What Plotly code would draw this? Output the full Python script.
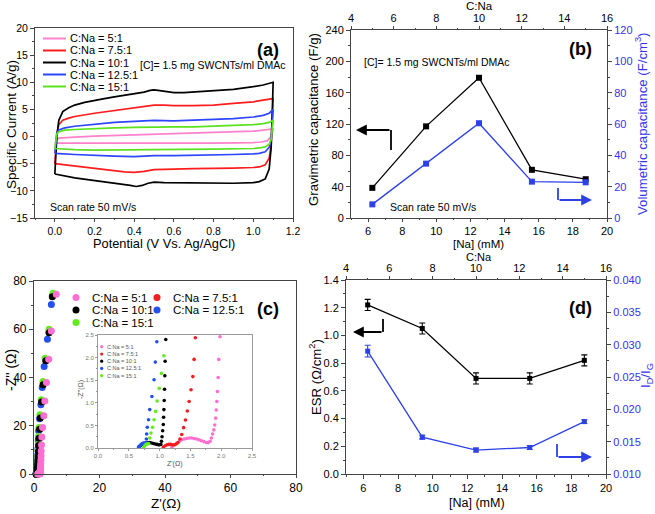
import plotly.graph_objects as go

W, H = 655, 514
FONT = "Arial, 'Liberation Sans', sans-serif"
AXC = "#444444"
BLUE_TXT = "#3333ee"


def px(x):
    return x / W


def py(y):
    return 1 - y / H


# ---------------- (a) cyclic voltammetry ----------------
cv_labels = ["C:Na = 5:1", "C:Na = 7.5:1", "C:Na = 10:1", "C:Na = 12.5:1", "C:Na = 15:1"]
cv_colors = ["#ff80cc", "#ff1c1c", "#000000", "#2c46ff", "#5ae21e"]

v_up_5 = [0.00, 0.01, 0.02, 0.05, 0.10, 0.20, 0.30, 0.40, 0.50, 0.60, 0.70, 0.80, 0.90, 1.00, 1.05, 1.10]
i_up_5 = [-1.2, -0.6, -0.3, -0.2, -0.1, 0.1, 0.2, 0.3, 0.5, 0.5, 0.6, 0.7, 0.9, 1.0, 1.2, 1.4]
v_dn_5 = [1.10, 1.09, 1.07, 1.04, 1.00, 0.80, 0.60, 0.40, 0.20, 0.10, 0.00]
i_dn_5 = [1.4, 0.0, -0.8, -1.0, -1.1, -1.2, -1.2, -1.3, -1.3, -1.3, -1.2]

v_up_75 = [0.00, 0.005, 0.01, 0.02, 0.04, 0.07, 0.10, 0.20, 0.30, 0.40, 0.45, 0.50, 0.55, 0.60, 0.70, 0.80, 0.90, 1.00, 1.05, 1.10]
i_up_75 = [-5.0, -2.0, 0.5, 2.2, 3.0, 3.4, 3.7, 4.3, 4.8, 5.3, 5.6, 5.8, 5.8, 5.7, 5.7, 5.8, 6.1, 6.4, 6.7, 7.0]
v_dn_75 = [1.10, 1.095, 1.09, 1.08, 1.06, 1.03, 1.00, 0.90, 0.80, 0.70, 0.60, 0.50, 0.45, 0.40, 0.35, 0.30, 0.20, 0.10, 0.00]
i_dn_75 = [7.0, 3.0, -1.5, -4.0, -5.2, -5.6, -5.7, -5.8, -5.8, -5.9, -6.0, -6.1, -6.4, -6.6, -6.5, -6.3, -5.9, -5.5, -5.0]

v_up_10 = [0.00, 0.005, 0.01, 0.02, 0.04, 0.07, 0.10, 0.15, 0.20, 0.25, 0.30, 0.35, 0.40, 0.45, 0.48, 0.50, 0.52, 0.55, 0.60, 0.65, 0.70, 0.80, 0.90, 1.00, 1.05, 1.10]
i_up_10 = [-6.9, -4.0, 0.0, 3.0, 4.6, 5.3, 5.8, 6.3, 6.7, 7.0, 7.3, 7.6, 7.8, 8.2, 8.5, 8.6, 8.5, 8.3, 8.1, 8.1, 8.2, 8.4, 8.7, 9.2, 9.5, 10.0]
v_dn_10 = [1.10, 1.095, 1.09, 1.08, 1.06, 1.03, 1.00, 0.90, 0.80, 0.70, 0.60, 0.55, 0.50, 0.47, 0.44, 0.41, 0.38, 0.30, 0.20, 0.10, 0.00]
i_dn_10 = [10.0, 4.0, -2.0, -6.0, -7.8, -8.3, -8.5, -8.6, -8.6, -8.6, -8.6, -8.5, -8.4, -8.6, -9.0, -9.2, -9.0, -8.6, -8.1, -7.6, -6.9]

v_up_125 = [0.00, 0.005, 0.01, 0.02, 0.05, 0.10, 0.20, 0.30, 0.40, 0.50, 0.60, 0.70, 0.80, 0.90, 1.00, 1.05, 1.08, 1.10]
i_up_125 = [-3.1, -1.0, 0.6, 1.2, 1.6, 1.9, 2.3, 2.6, 2.8, 3.0, 2.9, 3.0, 3.1, 3.3, 3.6, 3.9, 4.3, 5.0]
v_dn_125 = [1.10, 1.095, 1.09, 1.08, 1.06, 1.03, 1.00, 0.90, 0.80, 0.70, 0.60, 0.50, 0.40, 0.30, 0.20, 0.10, 0.00]
i_dn_125 = [5.0, 2.0, -0.5, -2.0, -2.8, -3.1, -3.2, -3.3, -3.4, -3.4, -3.5, -3.5, -3.7, -3.6, -3.5, -3.3, -3.1]

v_up_15 = [0.00, 0.005, 0.01, 0.02, 0.05, 0.10, 0.20, 0.30, 0.40, 0.50, 0.60, 0.70, 0.80, 0.90, 1.00, 1.05, 1.08, 1.10]
i_up_15 = [-2.2, -0.5, 0.5, 0.9, 1.2, 1.3, 1.5, 1.6, 1.7, 1.8, 1.8, 1.8, 1.9, 2.0, 2.2, 2.4, 2.6, 3.0]
v_dn_15 = [1.10, 1.095, 1.09, 1.08, 1.06, 1.03, 1.00, 0.80, 0.60, 0.40, 0.20, 0.10, 0.00]
i_dn_15 = [3.0, 1.0, -0.5, -1.4, -1.9, -2.1, -2.2, -2.3, -2.4, -2.5, -2.5, -2.4, -2.2]

cv_v = [v_up_5 + v_dn_5, v_up_75 + v_dn_75, v_up_10 + v_dn_10, v_up_125 + v_dn_125, v_up_15 + v_dn_15]
cv_i = [i_up_5 + i_dn_5, i_up_75 + i_dn_75, i_up_10 + i_dn_10, i_up_125 + i_dn_125, i_up_15 + i_dn_15]

# ---------------- (b) capacitance ----------------
na_mM = [6.25, 9.4, 12.5, 15.6, 18.75]
c_na_ratio = [5, 7.5, 10, 12.5, 15]
grav_cap = [38.5, 117, 179, 61.5, 49.5]
vol_cap = [8.7, 34.7, 60.5, 23.2, 22.8]

# ---------------- (c) Nyquist ----------------
eis_labels = ["C:Na = 5:1", "C:Na = 7.5:1", "C:Na = 10:1", "C:Na = 12.5:1", "C:Na = 15:1"]
eis_colors = ["#ff6fd0", "#f21d1d", "#000000", "#2250f2", "#62ec1e"]

zre_5 = [1.20, 1.24, 1.28, 1.32, 1.36, 1.40, 1.44, 1.48, 1.52, 1.56, 1.60, 1.64, 1.68, 1.72, 1.76, 1.79, 1.82,
         1.84, 1.86, 1.88, 1.895, 1.91, 1.92, 1.93, 1.94, 1.95, 1.96, 1.98,
         2.0, 2.05, 2.1, 2.15, 2.2, 2.3, 2.4, 2.6, 3.0, 3.3, 3.8, 4.5, 5.3, 6.8]
zim_5 = [0.02, 0.07, 0.11, 0.15, 0.18, 0.20, 0.21, 0.22, 0.22, 0.21, 0.20, 0.18, 0.16, 0.14, 0.12, 0.12, 0.15,
         0.22, 0.31, 0.40, 0.51, 0.66, 0.84, 1.03, 1.25, 1.56, 1.96, 2.46,
         3.2, 4.4, 5.8, 7.5, 9.5, 12.0, 15.3, 19.3, 24.1, 30.3, 37.9, 47.6, 59.3, 74.5]

zre_75 = [1.06, 1.09, 1.12, 1.15, 1.18, 1.21, 1.24, 1.27,
          1.30, 1.33, 1.36, 1.39, 1.42, 1.45, 1.48, 1.51, 1.54, 1.56, 1.58,
          1.6, 1.62, 1.65, 1.68, 1.72, 1.78, 1.85, 1.95, 2.2, 2.5, 3.0, 3.7, 4.6, 5.6]
zim_75 = [0.02, 0.05, 0.07, 0.08, 0.08, 0.07, 0.07, 0.09,
          0.12, 0.20, 0.30, 0.45, 0.62, 0.82, 1.03, 1.29, 1.58, 1.96, 2.44,
          3.3, 4.4, 5.8, 7.5, 9.5, 12.0, 15.0, 18.8, 23.8, 30.0, 37.5, 47.0, 58.8, 73.8]

zre_10 = [0.66, 0.69, 0.72, 0.75, 0.78, 0.81, 0.84, 0.87, 0.90, 0.93, 0.96, 0.99, 1.02,
          1.03, 1.04, 1.05, 1.06, 1.065, 1.07, 1.075, 1.08, 1.085, 1.09, 1.10,
          1.12, 1.15, 1.2, 1.25, 1.3, 1.4, 1.5, 1.7, 1.9, 2.3, 2.75, 3.6, 4.6, 5.6]
zim_10 = [0.02, 0.05, 0.08, 0.10, 0.11, 0.12, 0.12, 0.11, 0.10, 0.09, 0.08, 0.07, 0.08,
          0.15, 0.25, 0.38, 0.52, 0.68, 0.85, 1.05, 1.3, 1.6, 1.92, 2.4,
          3.2, 4.3, 5.6, 7.3, 9.3, 11.8, 14.8, 18.5, 23.2, 29.8, 37.0, 46.9, 58.6, 73.5]

zre_125 = [0.66, 0.68, 0.70, 0.72, 0.74, 0.76, 0.78,
           0.785, 0.79, 0.80, 0.82, 0.84, 0.875, 0.91, 0.93, 0.955,
           1.0, 1.05, 1.1, 1.15, 1.2, 1.3, 1.4, 1.7, 2.1, 2.5, 3.1, 4.1, 5.3]
zim_125 = [0.02, 0.05, 0.08, 0.10, 0.11, 0.11, 0.12,
           0.20, 0.31, 0.46, 0.625, 0.85, 1.14, 1.51, 1.9, 2.35,
           3.2, 4.5, 6.0, 8.0, 10.5, 13.8, 17.9, 22.9, 28.7, 35.9, 44.6, 55.9, 70.3]

zre_15 = [0.74, 0.76, 0.78, 0.80, 0.82,
          0.84, 0.86, 0.886, 0.91, 0.935, 0.96, 0.995, 1.03, 1.07,
          1.1, 1.12, 1.15, 1.18, 1.2, 1.25, 1.3, 1.4, 1.5, 1.8, 2.2, 2.75, 3.4, 4.6, 5.8]
zim_15 = [0.02, 0.05, 0.08, 0.09, 0.10,
          0.22, 0.33, 0.46, 0.625, 0.81, 1.04, 1.32, 1.65, 2.04,
          2.6, 3.3, 4.5, 6.0, 7.7, 9.8, 12.4, 15.6, 19.3, 24.6, 30.8, 38.3, 48.0, 60.0, 74.9]

eis_re = [zre_5, zre_75, zre_10, zre_125, zre_15]
eis_im = [zim_5, zim_75, zim_10, zim_125, zim_15]

# ---------------- (d) ESR and ID/IG ----------------
esr = [1.22, 1.05, 0.69, 0.69, 0.82]
esr_err = [0.04, 0.04, 0.04, 0.04, 0.04]
id_ig = [0.0290, 0.0157, 0.0137, 0.0141, 0.0181]
id_ig_err = [0.0009, 0.0003, 0.0003, 0.0003, 0.0003]

LINE_BLUE = "#2d41e6"

fig = go.Figure()

# (a)
for k in range(5):
    fig.add_trace(go.Scatter(x=cv_v[k], y=cv_i[k], mode="lines", name=cv_labels[k],
                             line=dict(color=cv_colors[k], width=1.7), xaxis="x", yaxis="y",
                             showlegend=False))

# (b)
fig.add_trace(go.Scatter(x=na_mM, y=grav_cap, mode="lines+markers", line=dict(color="black", width=1.3),
                         marker=dict(symbol="square", size=6, color="black"), xaxis="x2", yaxis="y2",
                         showlegend=False))
fig.add_trace(go.Scatter(x=na_mM, y=vol_cap, mode="lines+markers", line=dict(color=LINE_BLUE, width=1.3),
                         marker=dict(symbol="square", size=6, color=LINE_BLUE), xaxis="x2", yaxis="y3",
                         showlegend=False))
# same series against the C:Na ratio (top axis), invisible: it only carries the top axis
fig.add_trace(go.Scatter(x=c_na_ratio, y=grav_cap, mode="markers", marker=dict(opacity=0),
                         xaxis="x3", yaxis="y2", hoverinfo="skip", showlegend=False))

# (c) main and inset
order = [1, 3, 4, 2, 0]
for k in order:
    fig.add_trace(go.Scatter(x=eis_re[k], y=eis_im[k], mode="markers", name=eis_labels[k],
                             marker=dict(size=7, color=eis_colors[k]), xaxis="x4", yaxis="y4",
                             cliponaxis=False, showlegend=False))
for k in [0, 1, 2, 3, 4]:
    fig.add_trace(go.Scatter(x=eis_re[k], y=eis_im[k], mode="markers", name=eis_labels[k],
                             marker=dict(size=3.6, color=eis_colors[k]), xaxis="x5", yaxis="y5",
                             cliponaxis=True, showlegend=False))

# (d)
fig.add_trace(go.Scatter(x=na_mM, y=esr, mode="lines+markers", line=dict(color="black", width=1.3),
                         marker=dict(symbol="square", size=5, color="black"),
                         error_y=dict(type="data", array=esr_err, color="black", thickness=1.1, width=3),
                         xaxis="x6", yaxis="y6", showlegend=False))
fig.add_trace(go.Scatter(x=na_mM, y=id_ig, mode="lines+markers", line=dict(color=LINE_BLUE, width=1.3),
                         marker=dict(symbol="square", size=5, color=LINE_BLUE),
                         error_y=dict(type="data", array=id_ig_err, color=LINE_BLUE, thickness=1.1, width=3),
                         xaxis="x6", yaxis="y7", showlegend=False))
fig.add_trace(go.Scatter(x=c_na_ratio, y=esr, mode="markers", marker=dict(opacity=0),
                         xaxis="x7", yaxis="y6", hoverinfo="skip", showlegend=False))


def axis(domain, rng, dtick, minor, anchor, side=None, overlaying=None, mirror=False,
         fsize=11, fcolor="black", fmt=None, lcolor=AXC, ticklen=4, tickcolor=AXC):
    d = dict(domain=domain, range=rng, dtick=dtick, tick0=0, anchor=anchor, showgrid=False,
             zeroline=False, showline=True, linecolor=lcolor, linewidth=1.1, mirror=mirror,
             ticks="outside", ticklen=ticklen, tickwidth=1, tickcolor=tickcolor,
             tickfont=dict(family=FONT, size=fsize, color=fcolor),
             minor=dict(dtick=minor, ticks="outside", ticklen=max(1, ticklen // 2), tickcolor=tickcolor))
    if side:
        d["side"] = side
    if overlaying:
        d["overlaying"] = overlaying
    if fmt:
        d["tickformat"] = fmt
    return d


dom_a_x = [px(35), px(293)]
dom_a_y = [py(218), py(28)]
dom_b_x = [px(351), px(607)]
dom_b_y = [py(218), py(30)]
dom_c_x = [px(34), px(296)]
dom_c_y = [py(474), py(281)]
dom_i_x = [px(98), px(252)]
dom_i_y = [py(448), py(335)]
dom_d_x = [px(346), px(606)]
dom_d_y = [py(474), py(280)]

layout = dict(
    width=W, height=H, autosize=False,
    margin=dict(l=0, r=0, t=0, b=0, autoexpand=False),
    paper_bgcolor="white", plot_bgcolor="white",
    font=dict(family=FONT, color="black"),
    showlegend=False,
    xaxis=axis(dom_a_x, [-0.1, 1.2], 0.2, 0.1, "y", mirror=True, fmt=".1f", fsize=10.5, ticklen=3),
    yaxis=axis(dom_a_y, [-15, 20], 5, 2.5, "x", mirror=True, fsize=10.5),
    xaxis2=axis(dom_b_x, [5, 20], 2, 1, "y2", ticklen=3),
    xaxis3=axis(dom_b_x, [4, 16], 2, 1, "y2", side="top", overlaying="x2", ticklen=3),
    yaxis2=axis(dom_b_y, [0, 240], 40, 20, "x2"),
    yaxis3=axis(dom_b_y, [0, 120], 20, 10, "x2", side="right", overlaying="y2", fcolor=BLUE_TXT),
    xaxis4=axis(dom_c_x, [0, 80], 20, 10, "y4", mirror=True, fsize=12, ticklen=3),
    yaxis4=axis(dom_c_y, [0, 80], 20, 10, "x4", mirror=True, fsize=12),
    xaxis5=axis(dom_i_x, [0, 2.5], 0.5, 0.25, "y5", mirror=True, fsize=6, fcolor="#777777",
                fmt=".1f", lcolor="#9a9a9a", ticklen=2, tickcolor="#9a9a9a"),
    yaxis5=axis(dom_i_y, [0, 2.5], 0.5, 0.25, "x5", mirror=True, fsize=6, fcolor="#777777",
                fmt=".1f", lcolor="#9a9a9a", ticklen=2, tickcolor="#9a9a9a"),
    xaxis6=axis(dom_d_x, [5, 20], 2, 1, "y6"),
    xaxis7=axis(dom_d_x, [4, 16], 2, 1, "y6", side="top", overlaying="x6", ticklen=3),
    yaxis6=axis(dom_d_y, [0, 1.4], 0.2, 0.1, "x6", fmt=".1f"),
    yaxis7=axis(dom_d_y, [0.010, 0.040], 0.005, 0.0025, "x6", side="right", overlaying="y6",
                fcolor=BLUE_TXT, fmt=".3f"),
)
fig.update_layout(**layout)

annotations = []
shapes = []


def text(t, x, y, size=11, color="black", angle=0, xanchor="center", yanchor="middle"):
    annotations.append(dict(text=t, x=px(x), y=py(y), xref="paper", yref="paper", showarrow=False,
                            font=dict(family=FONT, size=size, color=color), textangle=angle,
                            xanchor=xanchor, yanchor=yanchor))


# axis titles
text("Specific Current (A/g)", 11, 125, 13.5, angle=-90)
text("Potential (V Vs. Ag/AgCl)", 164, 243.5, 12.8)
text("Gravimetric capacitance (F/g)", 313, 120, 13.2, angle=-90)
text("Volumetric capacitance (F/cm<sup>3</sup>)", 641, 124, 13.2, color=BLUE_TXT, angle=-90)
text("C:Na", 479, 6.5, 11.5)
text("[Na] (mM)", 478, 244, 11.5)
text("-Z'' (Ω)", 11, 370, 14, angle=-90)
text("Z'(Ω)", 166, 503.5, 13.5)
text("ESR (Ω/cm<sup>2</sup>)", 315, 377, 13.2, angle=-90)
text("I<sub>D</sub>/I<sub>G</sub>", 646, 376, 13.2, color=BLUE_TXT, angle=-90)
text("C:Na", 479, 256.5, 11)
text("[Na] (mM)", 477, 503, 12.5)
text("Z'(Ω)", 175, 464, 7, color="#555555")
text("-Z''(Ω)", 81, 390, 7, color="#555555", angle=-90)

# panel labels and notes
text("<b>(a)</b>", 268, 50, 18)
text("<b>(b)</b>", 580, 49, 18)
text("<b>(c)</b>", 268, 309, 18)
text("<b>(d)</b>", 580, 308, 18)
text("[C]= 1.5 mg SWCNTs/ml DMAc", 138, 65, 10.5, xanchor="left")
text("Scan rate 50 mV/s", 48, 207, 10.5, xanchor="left")
text("[C]= 1.5 mg SWCNTs/ml DMAc", 362, 62, 10.5, xanchor="left")
text("Scan rate 50 mV/s", 388, 207, 10.5, xanchor="left")

# legend (a)
rows_a = [38.5, 50.5, 62.5, 74.5, 86.5]
for k in range(5):
    shapes.append(dict(type="line", xref="paper", yref="paper", x0=px(43), x1=px(66),
                       y0=py(rows_a[k]), y1=py(rows_a[k]), line=dict(color=cv_colors[k], width=2)))
    text(cv_labels[k], 68, rows_a[k], 11, xanchor="left")

# legend (c) main, two columns
leg_c = [(0, 76, 297.5), (1, 157, 297.5), (2, 76, 310), (3, 157, 310), (4, 76, 322.5)]
for k, mx, my in leg_c:
    shapes.append(dict(type="circle", xref="paper", yref="paper", xsizemode="pixel", ysizemode="pixel",
                       xanchor=px(mx), yanchor=py(my), x0=-3.5, x1=3.5, y0=-3.5, y1=3.5,
                       fillcolor=eis_colors[k], line=dict(width=0)))
    text(eis_labels[k], mx + 14, my, 11.5, xanchor="left")

# inset legend
rows_i = [346.7, 354, 361.2, 368.4, 375.7]
for k in range(5):
    shapes.append(dict(type="circle", xref="paper", yref="paper", xsizemode="pixel", ysizemode="pixel",
                       xanchor=px(101.7), yanchor=py(rows_i[k]), x0=-1.6, x1=1.6, y0=-1.6, y1=1.6,
                       fillcolor=eis_colors[k], line=dict(width=0)))
    text(eis_labels[k], 105, rows_i[k], 5.5, color="#555555", xanchor="left")


def arrow(xv, y_top, y_bot, y_h, x_head, color):
    shapes.append(dict(type="line", xref="paper", yref="paper", x0=px(xv), x1=px(xv),
                       y0=py(y_top), y1=py(y_bot), line=dict(color=color, width=1.8)))
    annotations.append(dict(x=px(x_head), y=py(y_h), xref="paper", yref="paper", text="",
                            showarrow=True, ax=xv - x_head, ay=0, arrowhead=2, arrowsize=1.2,
                            arrowwidth=1.8, arrowcolor=color))


arrow(391, 130, 150, 130, 356, "black")
arrow(558, 188, 200, 200, 592, LINE_BLUE)
arrow(383, 319, 332, 332, 353, "black")
arrow(557, 444, 457, 457, 592, LINE_BLUE)

fig.update_layout(annotations=annotations, shapes=shapes)
fig.write_html("out.html", config={"displayModeBar": False},
               post_script="document.body.style.margin='0';document.body.style.padding='0';")
